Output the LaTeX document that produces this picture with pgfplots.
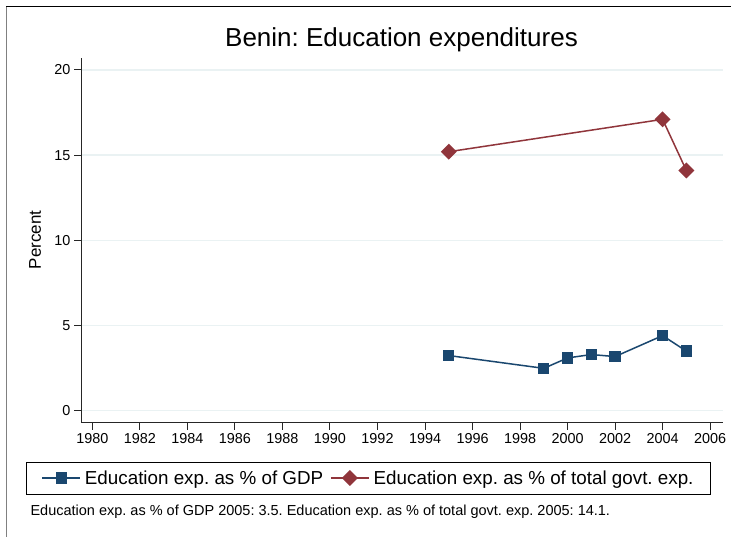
\documentclass[border=0pt]{standalone}
\usepackage{fontspec}
\setmainfont{Liberation Sans}
\usepackage{pgfplots}
\pgfplotsset{compat=1.18}
\definecolor{sblue}{HTML}{1A476F}
\definecolor{sred}{HTML}{90353B}
\definecolor{sgrid}{HTML}{EAF2F3}
\frenchspacing
\begin{document}
\begin{tikzpicture}
\path[use as bounding box, fill=white] (0,0) rectangle (731bp,537bp);
\draw[line width=1bp, black] (6bp,530bp) -- (731bp,530bp);
\draw[line width=1bp, gray] (6bp,530bp) -- (6bp,0bp);
\begin{axis}[
  at={(81bp,114.3bp)}, anchor=south west,
  scale only axis, width=641.7bp, height=364.7bp,
  xmin=1979.52, xmax=2006.53, ymin=-0.7, ymax=20.7,
  axis lines*=left,
  xtick={1980,1982,...,2006}, ytick={0,5,...,20},
  tick align=outside, major tick length=7bp,
  ymajorgrids, grid style={sgrid, line width=1.3bp},
  /pgf/number format/1000 sep={},
  /pgf/number format/assume math mode=true,
  tick label style={font=\fontsize{14.4bp}{16bp}\selectfont},
  axis line style={line width=1bp, black!85},
  tick style={line width=1bp, black!85},
  legend columns=2,
  legend style={at={(0.448,-0.1516)}, anchor=center, draw=black, line width=0.8bp,
    font=\fontsize{18.8bp}{21bp}\selectfont, inner xsep=15bp, inner ysep=6.5bp,
    /tikz/every odd column/.append style={column sep=2bp},
    /tikz/every even column/.append style={column sep=5bp}},
  legend image code/.code={\draw[#1, mark repeat=2, mark phase=2] plot coordinates {(0bp,0bp) (19bp,0bp) (38bp,0bp)};},
]
\addplot[sblue, line width=1.5bp, mark=square*, mark size=4.9bp,
  mark options={solid}] coordinates {
  (1995,3.24) (1999,2.49) (2000,3.1) (2001,3.3) (2002,3.18) (2004,4.41) (2005,3.5)};
\addlegendentry{Education exp. as \% of GDP}
\addplot[sred, line width=1.5bp, mark=square*, mark size=4.9bp,
  mark options={solid, rotate=45}] coordinates {
  (1995,15.2) (2004,17.1) (2005,14.1)};
\addlegendentry{Education exp. as \% of total govt. exp.}
\end{axis}
\node[font=\fontsize{26bp}{30bp}\selectfont] at (401.5bp,497bp) {Benin: Education expenditures};
\node[font=\fontsize{17bp}{20bp}\selectfont, rotate=90] at (35bp,297bp) {Percent};
\node[font=\fontsize{14.5bp}{17bp}\selectfont, anchor=west] at (27bp,25bp) {Education exp. as \% of GDP 2005: 3.5. Education exp. as \% of total govt. exp. 2005: 14.1.};
\end{tikzpicture}
\end{document}
